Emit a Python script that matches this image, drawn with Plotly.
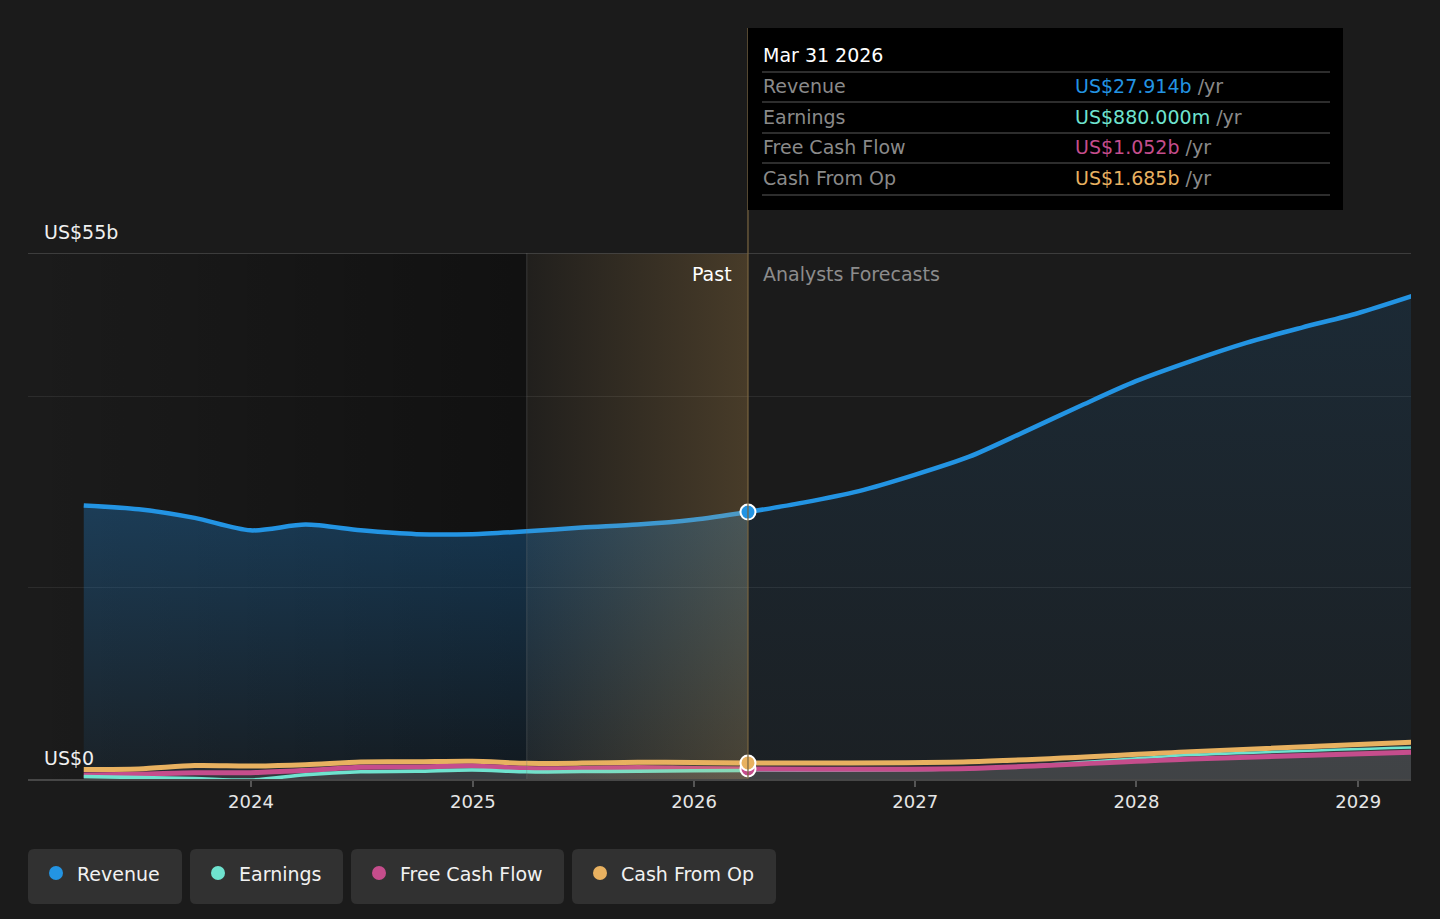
import plotly.graph_objects as go

# revenue, US$ billions
rev_past_dates = ['2023-03-31', '2023-06-30', '2023-09-30', '2023-12-31', '2024-03-31',
                  '2024-06-30', '2024-09-30', '2024-12-31', '2025-03-31', '2025-06-30',
                  '2025-09-30', '2025-12-31', '2026-03-31']
rev_past = [28.6, 28.2, 27.3, 26.0, 26.6, 26.0, 25.6, 25.6, 25.9, 26.3, 26.6, 27.1, 27.914]

rev_fc_dates = ['2026-03-31', '2026-06-30', '2026-09-30', '2026-12-31', '2027-03-31',
                '2027-06-30', '2027-09-30', '2027-12-31', '2028-03-31', '2028-06-30',
                '2028-09-30', '2028-12-31', '2029-03-31']
rev_fc = [27.914, 28.9, 30.1, 31.8, 33.7, 36.3, 39.0, 41.6, 43.7, 45.6, 47.2, 48.7, 50.5]

# earnings / free cash flow / cash from ops, US$ billions
past_dates = rev_past_dates
earn_past = [0.25, 0.15, 0.05, -0.1, 0.45, 0.75, 0.8, 0.94, 0.75, 0.78, 0.8, 0.85, 0.88]
fcf_past = [0.43, 0.5, 0.66, 0.66, 0.9, 1.22, 1.25, 1.36, 1.1, 1.1, 1.2, 1.1, 1.052]
cfo_past = [1.0, 1.05, 1.4, 1.36, 1.5, 1.78, 1.8, 1.85, 1.64, 1.66, 1.75, 1.72, 1.685]

fc_dates = ['2026-03-31', '2027-03-31', '2028-03-31', '2029-03-31']
earn_fc = [0.88, 1.05, 2.5, 3.3]
fcf_fc = [1.052, 1.1, 2.1, 2.8]
cfo_fc = [1.685, 1.8, 2.85, 3.84]

tooltip_date = 'Mar 31 2026'
tooltip_rows = [('Revenue', 'US$27.914b'), ('Earnings', 'US$880.000m'),
                ('Free Cash Flow', 'US$1.052b'), ('Cash From Op', 'US$1.685b')]
year_ticks = ['2024', '2025', '2026', '2027', '2028', '2029']

BLUE = '#2394e3'
TEAL = '#6fe3cf'
PINK = '#c54d8c'
GOLD = '#e8b160'
BG = '#1b1b1b'
FONT = 'DejaVu Sans'

X0, X1 = '2022-12-29', '2029-03-29'
Y0, Y1 = 0, 55
band0, band1 = '2025-03-31', '2026-03-31'

# pixel -> paper helpers (plot area 28..1411 x 253..779)
L, R, T, B = 28, 1411, 253, 779


def px(x):
    return (x - L) / (R - L)


def py(y):
    return (B - y) / (B - T)


def rrect(x0, y0, x1, y1, r=6):
    a, b, c, d = px(x0), px(x1), py(y0), py(y1)
    rx, ry = r / (R - L), r / (B - T)
    return (f'M{a + rx},{c} L{b - rx},{c} Q{b},{c} {b},{c - ry} L{b},{d + ry} '
            f'Q{b},{d} {b - rx},{d} L{a + rx},{d} Q{a},{d} {a},{d + ry} '
            f'L{a},{c - ry} Q{a},{c} {a + rx},{c} Z')


fig = go.Figure()

# darker past background
fig.add_trace(go.Scatter(x=[X0, band0, band0, X0], y=[Y0, Y0, Y1, Y1], fill='toself',
                         mode='none', fillgradient=dict(type='horizontal', colorscale=[
                             [0, 'rgba(0,0,0,0)'], [1, 'rgba(0,0,0,0.38)']])))

# revenue
fig.add_trace(go.Scatter(x=rev_past_dates, y=rev_past, mode='lines', fill='tozeroy',
                         line=dict(color=BLUE, width=4.5, shape='spline', smoothing=0.8),
                         fillgradient=dict(type='vertical', colorscale=[
                             [0, 'rgba(33,150,243,0.06)'], [1, 'rgba(33,150,243,0.28)']])))
fig.add_trace(go.Scatter(x=rev_fc_dates, y=rev_fc, mode='lines', fill='tozeroy',
                         line=dict(color=BLUE, width=4.5, shape='spline', smoothing=0.8),
                         fillgradient=dict(type='vertical', colorscale=[
                             [0, 'rgba(33,150,243,0.04)'], [1, 'rgba(33,150,243,0.12)']])))

# small series
for d, vals, col, w in [(past_dates, cfo_past, GOLD, 5), (past_dates, fcf_past, PINK, 5),
                        (past_dates, earn_past, TEAL, 3.5),
                        (fc_dates, cfo_fc, GOLD, 5), (fc_dates, earn_fc, TEAL, 2.5),
                        (fc_dates, fcf_fc, PINK, 5)]:
    fig.add_trace(go.Scatter(x=d, y=vals, mode='lines', fill='tozeroy',
                             fillcolor='rgba(140,140,140,0.13)',
                             line=dict(color=col, width=w, shape='spline', smoothing=0.8)))

# highlighted last year of past
fig.add_trace(go.Scatter(x=[band0, band1, band1, band0], y=[Y0, Y0, Y1, Y1], fill='toself',
                         mode='none', fillgradient=dict(type='horizontal', colorscale=[
                             [0, 'rgba(230,175,90,0.03)'], [1, 'rgba(230,175,90,0.22)']])))

# markers at the hover date
for vals, col in [(fcf_past, PINK), (cfo_past, GOLD), (rev_past, BLUE)]:
    fig.add_trace(go.Scatter(x=[past_dates[-1]], y=[vals[-1]], mode='markers',
                             marker=dict(color=col, size=15, line=dict(color='white', width=2))))

shapes = [
    dict(type='line', xref='paper', yref='y', x0=0, x1=1, y0=55, y1=55,
         line=dict(color='#4a4a4a', width=1.5)),
    dict(type='line', xref='x', yref='y', x0=band0, x1=band0, y0=0, y1=55,
         line=dict(color='rgba(120,120,120,0.35)', width=1)),
    dict(type='line', xref='x', yref='paper', x0=band1, x1=band1, y0=0, y1=py(28),
         line=dict(color='#7a6540', width=1.2)),
    # tooltip
    dict(type='rect', xref='paper', yref='paper', x0=px(748), x1=px(1343), y0=py(210),
         y1=py(28), fillcolor='#000000', line=dict(width=0)),
]
for yy in [72, 102, 133, 163, 195]:
    shapes.append(dict(type='line', xref='paper', yref='paper', x0=px(762), x1=px(1330),
                       y0=py(yy), y1=py(yy), line=dict(color='#3c3c3c', width=1.5)))

annotations = [
    dict(text='US$55b', x=px(42), y=py(232), xanchor='left', yanchor='middle',
         font=dict(size=19, color='#f0f0f0')),
    dict(text='US$0', x=px(42), y=py(758), xanchor='left', yanchor='middle',
         font=dict(size=19, color='#f0f0f0')),
    dict(text='Past', x=px(734), y=py(274), xanchor='right', yanchor='middle',
         font=dict(size=19, color='#ffffff')),
    dict(text='Analysts Forecasts', x=px(761), y=py(274), xanchor='left', yanchor='middle',
         font=dict(size=19, color='#8c8c8c')),
    dict(text=tooltip_date, x=px(761), y=py(55), xanchor='left', yanchor='middle',
         font=dict(size=19, color='#ffffff')),
]
row_cols = [BLUE, TEAL, PINK, GOLD]
for i, ((lab, val), col) in enumerate(zip(tooltip_rows, row_cols)):
    yy = 86 + i * 30.5
    annotations.append(dict(text=lab, x=px(761), y=py(yy), xanchor='left', yanchor='middle',
                            font=dict(size=19, color='#8a8a8a')))
    annotations.append(dict(text=f'<span style="color:{col}">{val}</span> /yr',
                            x=px(1073), y=py(yy), xanchor='left', yanchor='middle',
                            font=dict(size=19, color='#8a8a8a')))

# legend chips
legend_items = [('Revenue', BLUE, 28, 182), ('Earnings', TEAL, 190, 343),
                ('Free Cash Flow', PINK, 351, 564), ('Cash From Op', GOLD, 572, 776)]
for lab, col, a, b in legend_items:
    shapes.append(dict(type='path', xref='paper', yref='paper', path=rrect(a, 849, b, 904),
                       fillcolor='#313131', line=dict(width=0)))
    shapes.append(dict(type='circle', xref='paper', yref='paper', x0=px(a + 21), x1=px(a + 35),
                       y0=py(880), y1=py(866), fillcolor=col, line=dict(width=0)))
    annotations.append(dict(text=lab, x=px(a + 47), y=py(874), xanchor='left', yanchor='middle',
                            font=dict(size=19, color='#f2f2f2')))

for an in annotations:
    an.update(xref='paper', yref='paper', showarrow=False)

fig.update_layout(
    width=1440, height=919,
    margin=dict(l=L, r=1440 - R, t=T, b=919 - B),
    paper_bgcolor=BG, plot_bgcolor=BG,
    font=dict(family=FONT, color='#e0e0e0'),
    showlegend=False, hovermode=False,
    shapes=shapes, annotations=annotations,
    xaxis=dict(type='date', range=[X0, X1], showgrid=False, zeroline=False,
               tickvals=[f'{y}-01-01' for y in year_ticks], ticktext=year_ticks,
               ticks='outside', ticklen=6, tickcolor='#555555', tickwidth=1.5,
               showline=True, linecolor='#474747', linewidth=1.5,
               tickfont=dict(size=18, color='#e6e6e6')),
    yaxis=dict(range=[Y0, Y1], tickvals=[20, 40], showticklabels=False,
               gridcolor='#2c2c2c', gridwidth=1.2, zeroline=False, fixedrange=True),
)

fig.write_html('out.html', config={'displayModeBar': False},
               post_script="document.body.style.margin='0';"
                           "document.body.style.background='#1b1b1b';")
